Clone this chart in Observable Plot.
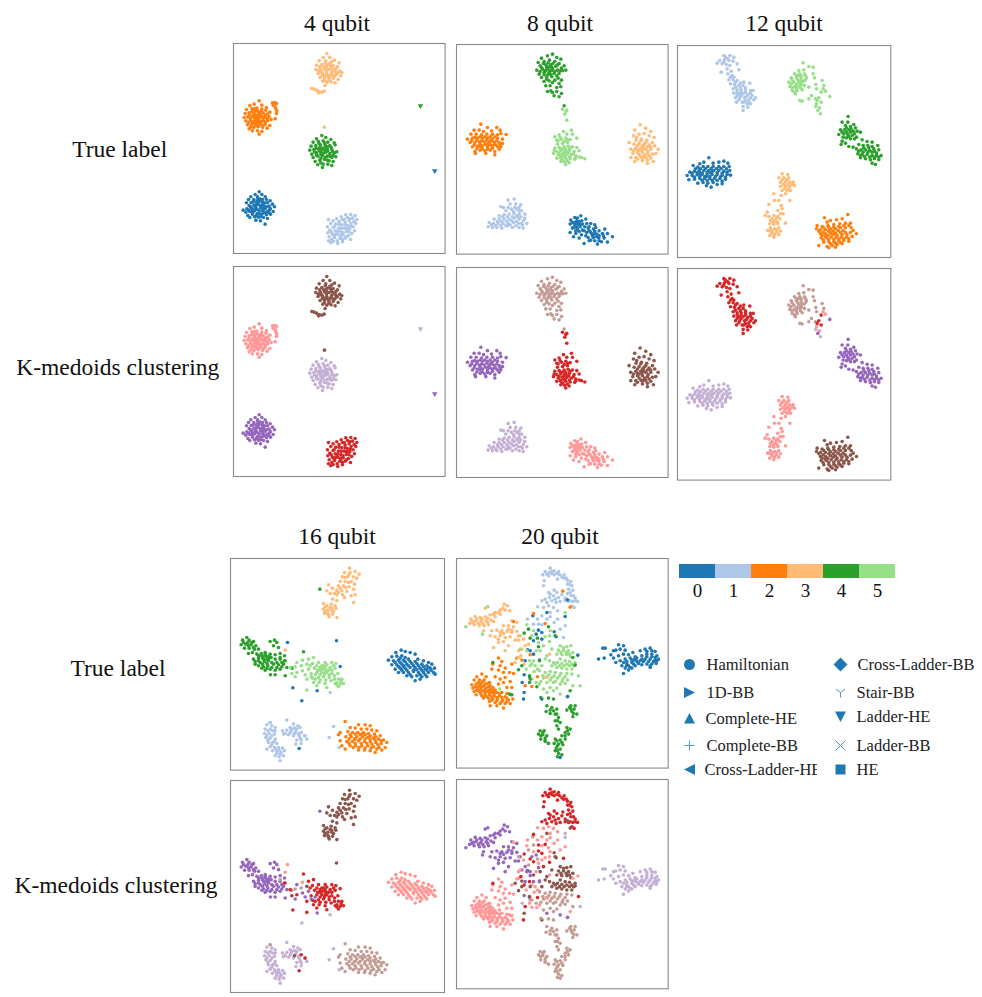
<!DOCTYPE html>
<html><head><meta charset="utf-8">
<script src="https://cdn.jsdelivr.net/npm/d3@7"></script>
<script src="https://cdn.jsdelivr.net/npm/@observablehq/plot@0.6"></script>
<style>
html,body{margin:0;padding:0;background:#fff;}
#page{position:relative;width:982px;height:997px;overflow:hidden;font-family:"Liberation Serif",serif;color:#111;}
.t{position:absolute;transform:translate(-50%,-50%);white-space:nowrap;font-size:23.5px;line-height:1;}
#page svg{position:absolute;}
</style></head><body><div id="page"></div>
<script>
// tab20: true labels use indices 0-5, K-medoids labels use indices 6-11
const labelColors=["#1f77b4","#aec7e8","#ff7f0e","#ffbb78","#2ca02c","#98df8a","#d62728","#ff9896","#9467bd","#c5b0d5","#8c564b","#c49c94"];
const colorbarLabels=["0","1","2","3","4","5"];
const markerNamesA=["Hamiltonian","1D-BB","Complete-HE","Complete-BB","Cross-Ladder-HE"];
const markerNamesB=["Cross-Ladder-BB","Stair-BB","Ladder-HE","Ladder-BB","HE"];

// ---- 4 qubit: flat x,y lists
const q4_c0=[100,545,88,553,108,553,75,560,95,560,118,560,68,568,84,568,103,567,122,568,133,572,62,578,76,577,92,575,110,576,125,578,140,582,70,586,84,585,98,584,114,586,130,588,146,590,52,600,63,596,77,594,90,592,104,593,118,595,134,596,60,606,72,604,86,602,100,602,112,603,128,606,142,604,66,616,80,612,94,610,108,612,122,614,134,612,72,622,86,620,98,621,113,622,125,625,90,630,104,632,118,642,96,572,80,600,108,585,92,583,101,611,88,596,112,595,82,575,100,575,116,578,74,590,88,590,105,590,122,590,80,606,94,598,110,600,124,604,92,616,104,620,116,608,68,600,130,600,96,566,110,568];
const q4_c1=[360,614,375,613,388,616,346,620,365,622,380,624,393,628,333,626,350,628,370,632,385,634,308,628,322,632,340,634,358,636,376,640,390,640,315,640,330,642,348,644,365,646,382,650,305,650,322,652,338,654,355,654,372,656,386,662,312,660,328,662,345,664,362,664,378,670,306,668,320,672,336,672,352,674,368,676,310,680,326,682,342,684,358,684,374,688,308,692,322,694,336,700,350,695,315,698,345,675,360,655,330,672,355,628,372,626,340,642,358,644,374,648,325,650,346,654,365,655,316,665,335,663,352,668,370,665,326,678,345,680,362,680,318,688,334,692,350,688];
const q4_c2=[100,272,85,282,72,286,108,285,122,292,62,298,78,296,93,294,108,297,120,300,132,306,58,310,70,308,84,306,98,304,112,308,125,312,55,322,66,320,80,318,92,316,106,318,118,322,130,320,60,332,74,330,88,328,100,326,112,330,126,332,136,328,65,344,78,342,92,338,104,340,118,342,132,346,70,356,84,352,97,350,110,352,124,354,80,362,95,362,108,364,100,372,86,312,98,334,92,345,75,350,92,322,103,311,84,336,140,278,148,277,152,280,142,285,148,290,150,296,153,302,152,310,148,326,78,305,92,302,106,304,118,315,70,315,85,322,98,320,110,322,124,326,74,325,80,335,94,330,106,334,118,336,88,344,100,345,112,346,85,296,99,312,68,338];
const q4_c3=[303,130,292,142,312,142,326,150,280,152,300,152,318,155,340,158,272,165,288,163,305,165,322,166,335,170,270,178,283,176,296,176,310,178,325,180,342,183,348,187,277,190,290,188,303,190,316,192,331,192,345,197,283,202,296,201,309,204,322,205,337,208,291,213,303,216,316,215,328,218,298,226,294,170,315,168,302,182,285,185,330,175,310,198,322,198,295,195,258,235,265,237,272,240,280,244,288,246,295,243,278,248,296,351,298,158,312,160,282,170,300,170,318,175,285,180,303,176,335,190,290,195,305,197,318,186,326,198,296,208,310,210,278,183,330,185];
const q4_c4=[288,376,272,386,300,382,315,388,262,396,278,394,292,392,306,396,325,398,256,408,270,406,284,404,298,404,312,406,328,404,252,420,264,418,278,416,292,414,304,416,318,418,333,425,258,432,272,428,286,426,300,426,312,430,326,428,262,442,276,438,290,436,304,438,318,442,330,440,268,454,282,450,296,448,310,452,322,454,276,464,292,462,306,462,318,466,290,472,283,410,296,420,285,432,305,410,280,400,296,398,270,414,286,418,300,410,316,412,266,425,280,422,292,430,306,422,320,424,272,435,298,442,312,438,285,444,305,450,285,458,322,435];
const q4_outlier0=[627,483];
const q4_outlier4=[584,288];

// ---- 8 qubit
const q8_c0=[390,525,372,530,405,535,360,538,378,540,393,540,408,548,358,550,372,552,387,552,402,558,420,548,432,552,365,562,380,565,395,568,412,562,428,565,445,570,462,565,358,575,375,578,392,582,408,575,422,578,438,580,455,578,470,578,368,588,385,592,412,590,428,590,444,592,460,592,485,588,400,608,415,600,440,610,452,603,470,604,385,550,378,558,395,550,418,572,432,572,380,532,386,542,425,585,438,588,365,545,380,548,372,545,388,558,370,560,400,570,415,570,430,580,445,585,458,585,405,585,420,598,432,600,445,600,415,558,435,560,375,570,385,572];
const q8_c1=[190,475,172,478,158,500,178,490,195,490,210,492,150,498,165,510,182,505,198,505,212,510,222,520,145,525,160,522,175,520,190,518,205,520,222,532,130,535,145,535,160,535,175,535,190,532,205,535,218,540,115,545,128,548,142,548,157,548,172,548,188,545,203,548,228,548,112,558,125,560,138,560,153,562,170,555,185,560,205,560,217,562,195,555,198,525,205,510,170,528,185,528,200,528,155,528,210,528,140,542,152,542,168,542,182,540,197,542,212,548,122,552,135,555,150,555,165,555,178,552,192,500,205,500,172,500,188,512,215,552];
const q8_c2=[90,250,110,260,138,260,148,268,70,268,85,268,98,272,122,270,60,280,76,280,92,282,108,280,125,280,140,282,150,278,50,295,65,292,80,292,95,292,110,292,125,294,140,292,155,295,166,281,58,305,72,305,86,304,100,303,115,305,130,304,145,305,155,308,65,318,80,316,95,315,110,318,125,315,140,318,150,318,72,332,88,328,102,330,118,328,132,332,145,325,74,338,105,338,132,342,88,318,112,310,120,298,132,312,72,290,88,288,102,288,118,288,132,288,62,300,78,298,92,300,108,298,122,300,138,300,70,312,88,310,104,310,118,312,135,312,78,324,95,324,110,325,125,322,148,312];
const q8_c3=[568,252,552,268,585,262,600,272,548,285,565,280,580,278,595,285,610,290,556,298,572,295,588,298,605,305,535,305,550,310,565,308,580,310,595,312,612,315,540,325,555,322,570,322,585,325,600,325,622,325,546,338,560,335,575,335,590,338,605,340,540,350,555,350,570,348,585,350,600,352,615,338,552,362,575,360,590,368,608,362,573,328,578,315,565,330,582,342,560,315,575,315,590,318,560,328,578,322,592,332,548,330,565,342,580,345,595,345,570,300,585,305,558,290,600,318,575,352,560,355,590,358];
const q8_c4=[305,40,290,45,272,52,318,50,330,55,262,65,280,62,296,58,312,62,325,68,340,75,268,75,285,72,300,72,315,76,332,82,258,88,275,85,290,83,305,85,320,88,345,88,265,100,280,95,295,95,310,98,325,98,272,110,288,108,303,108,322,112,332,118,280,122,295,120,305,125,325,128,285,135,298,135,318,140,330,138,290,152,305,155,318,152,332,158,310,165,325,168,300,150,285,90,298,78,292,100,290,78,302,90,340,195,278,68,292,66,306,68,272,80,288,80,304,80,320,72,282,90,296,90,312,92,328,90,268,92,300,102,318,105,280,102,335,90,288,115,312,118];
const q8_c5=[335,205,348,208,342,220,348,238,345,212,338,272,362,268,312,288,325,282,348,280,365,280,378,292,318,298,332,295,345,292,358,296,320,310,335,308,350,305,312,322,325,320,340,318,352,316,365,318,378,320,318,332,330,330,343,330,356,328,370,332,385,330,308,338,322,342,335,340,348,340,362,342,375,345,318,352,330,352,345,352,358,354,372,355,385,348,402,354,330,362,342,364,355,366,345,372,392,350,336,324,348,334,338,346,330,325,345,325,358,322,325,338,340,335,354,336,368,338,328,348,342,346,356,348,336,358,350,360,322,300,340,302,350,298,328,290,375,350,310,330];

// ---- 12 qubit
const q12_c0=[115,352,100,365,88,370,128,368,145,365,160,362,172,368,68,375,82,380,98,378,112,378,128,378,145,378,160,378,176,378,58,395,72,392,86,390,100,390,115,390,130,390,145,390,160,392,178,390,50,405,65,405,80,403,95,402,110,402,125,402,140,402,155,404,170,402,180,404,55,418,72,416,88,414,102,414,118,414,132,414,148,414,165,416,82,428,98,426,112,428,128,426,155,430,108,436,122,440,140,432,95,398,120,397,105,384,88,398,108,408,75,385,90,385,122,384,138,384,152,384,168,385,65,398,80,397,110,395,125,393,140,396,155,398,170,395,72,410,88,408,103,408,118,408,135,408,150,409,165,410,95,420,110,420,125,420,140,420,155,422];
const q12_c1=[160,45,178,45,190,50,148,60,162,58,175,60,188,62,140,68,155,70,168,72,200,70,152,95,170,85,182,92,205,88,172,100,185,105,175,118,188,118,200,120,220,125,238,128,180,130,192,132,205,135,218,135,188,145,200,148,212,148,225,148,240,150,248,150,190,158,205,160,218,160,232,162,245,165,255,172,195,172,208,172,222,172,235,178,250,178,198,185,215,185,230,190,240,190,218,198,232,200,218,210,212,165,225,180,165,50,178,75,195,125,210,128,195,140,210,142,225,142,200,155,212,155,225,155,240,158,200,165,228,168,240,172,205,178,220,185,235,185,172,55,160,65,180,110,190,110];
const q12_c2=[532,522,462,532,515,535,498,538,480,540,470,545,440,555,455,558,472,555,490,552,508,550,525,548,540,548,438,565,450,568,465,568,480,566,495,565,510,562,525,562,542,562,450,580,465,580,480,578,495,578,510,576,525,576,540,576,558,580,452,592,468,592,482,590,497,590,512,590,528,590,545,588,445,615,460,605,475,604,490,604,505,602,520,600,535,602,470,618,485,615,500,612,515,610,475,622,495,620,475,572,500,585,465,588,488,572,518,570,460,562,475,560,490,560,505,558,520,555,535,555,445,572,458,575,472,585,488,582,503,570,515,582,530,583,548,570,458,598,475,598,490,597,505,596,520,595,535,595,455,585,480,610,495,608,510,606];
const q12_c3=[335,400,352,402,325,412,340,412,355,412,330,425,345,425,358,425,368,425,330,438,345,438,358,438,372,435,335,450,350,450,360,450,345,460,332,465,310,460,325,480,312,480,295,492,332,495,358,480,335,505,322,510,330,520,290,515,284,525,295,528,310,525,322,528,338,520,300,540,315,540,328,535,298,550,310,552,322,550,345,548,300,562,312,565,325,562,292,570,305,578,318,575,330,572,298,585,310,590,340,432,350,418,335,418,348,418,338,432,352,432,365,432,342,445,355,445,305,535,318,532,308,545,320,545,305,570,318,568,300,572,312,582,325,582];
const q12_c4=[532,245,550,252,515,245,525,255,540,258,555,262,510,268,522,268,535,268,548,272,560,272,505,282,520,280,532,282,545,285,558,290,570,275,528,292,540,295,552,295,515,302,525,308,512,312,535,318,548,320,575,298,590,303,605,305,565,312,578,315,592,315,605,318,622,315,558,325,572,328,585,328,598,330,612,332,625,328,562,340,575,342,590,342,605,345,618,345,632,345,570,352,585,355,600,358,612,355,625,358,605,368,615,372,533,228,518,290,595,322,540,275,528,262,542,265,515,275,528,275,552,280,535,288,580,322,610,325,565,332,578,335,592,335,605,335,618,338,570,345,582,348,598,350,612,350,625,350];
const q12_c5=[398,67,415,78,428,80,385,90,400,88,372,100,388,100,402,100,428,100,362,112,378,112,392,112,408,112,432,112,355,125,370,125,385,125,400,122,455,120,358,138,372,138,388,135,402,135,436,132,460,135,365,150,380,150,395,148,415,140,438,145,375,160,388,180,395,182,415,175,423,165,435,175,382,118,392,128,378,140,378,105,392,106,405,105,365,118,392,120,405,118,362,130,378,132,392,132,365,142,378,145,390,142,372,155,385,105];
const q12_mixed=[452,155,5,6,465,152,5,7,478,168,5,8,445,172,5,6,438,190,5,7,447,202,5,7,442,210,5,8,450,220,5,9,440,180,5,6,452,185,5,6,458,145,5,7,436,198,5,9];

// ---- 16 qubit
const q16_c0=[528,298,512,305,540,302,555,305,570,310,500,318,515,316,530,315,490,328,505,330,520,328,535,328,550,325,578,325,595,330,610,335,500,342,515,342,530,340,545,340,560,338,575,338,590,340,605,345,620,340,510,355,525,352,540,352,555,350,570,350,585,352,600,355,615,352,628,352,520,365,535,365,550,365,565,362,580,365,595,365,610,365,625,365,545,375,560,378,575,375,590,378,605,378,570,390,585,385,630,370,535,345,565,358,525,322,540,320,510,335,525,335,540,333,555,332,570,332,520,347,535,347,550,345,565,345,580,345,595,347,610,350,530,358,545,358,575,357,590,358,605,358,618,358,555,372,585,372,600,372];
const q16_c1=[135,515,125,522,140,525,150,530,120,535,135,535,150,540,118,548,132,548,148,550,122,560,135,562,150,565,130,575,142,575,155,578,135,588,148,590,160,590,172,592,142,600,155,602,168,605,178,600,150,615,162,618,175,615,165,630,185,508,205,520,218,525,195,530,208,532,225,530,172,540,185,538,198,540,212,542,228,545,175,550,190,552,205,555,222,555,238,555,215,568,228,568,245,565,212,580,228,578,325,527,312,560,125,595,342,590,315,425,128,540,142,540,125,555,140,555,128,568,148,572,140,582,152,595,162,598,165,610,155,608,180,548,195,546,208,548,220,550,225,562,200,535,215,535];
const q16_c2=[360,512,400,522,420,522,435,525,375,530,390,532,408,535,425,535,440,538,455,540,345,545,368,542,382,545,398,545,415,545,430,548,448,550,465,555,340,552,362,558,378,558,395,558,412,558,428,560,445,562,460,565,475,568,345,570,365,572,382,572,400,570,418,572,435,572,452,575,468,578,485,575,350,585,375,585,392,585,410,585,428,585,445,588,462,590,480,590,360,595,400,598,418,598,435,600,450,605,470,598,405,565,425,578,390,565,410,550,375,552,390,550,405,552,420,552,435,555,452,558,372,565,388,565,420,565,435,565,450,568,468,570,372,578,390,578,408,578,440,580,458,582,384,590,402,590,420,592,438,592,455,595];
const q16_c3=[373,52,358,65,375,65,390,62,402,70,352,78,368,78,385,78,395,82,345,92,360,92,378,92,388,100,340,105,355,105,372,108,385,115,310,102,322,112,335,118,350,120,365,122,305,120,315,128,335,132,378,135,390,132,295,158,322,145,335,150,358,140,385,155,305,165,318,160,330,165,295,175,308,178,320,178,332,172,298,188,310,192,322,190,335,200,312,198,300,182,315,170,325,182,308,188,320,172,300,168,340,125,345,112,362,110,370,95,360,80,328,128,352,132,372,70];
const q16_c4=[65,260,52,268,72,268,85,272,48,282,62,280,78,282,92,285,58,292,72,292,88,295,100,295,82,305,70,308,95,310,108,308,120,305,135,272,148,268,155,275,145,285,160,290,85,325,100,322,112,320,125,318,138,320,165,308,178,315,90,340,105,335,118,332,130,330,150,325,165,325,180,330,100,345,115,348,128,345,145,340,160,342,175,340,120,358,135,355,150,358,165,355,185,350,136,372,150,372,180,375,120,315,125,325,135,310,68,275,80,275,55,275,70,285,85,290,110,315,120,310,130,318,100,315,115,325,130,325,100,330,112,340,125,338,140,335,155,335,170,335,110,352,125,352,140,350,155,350,170,348,90,332,150,312];
const q16_c5=[265,320,250,325,262,338,280,335,300,335,320,335,332,338,268,352,285,350,300,350,315,350,330,352,258,368,275,365,290,365,305,365,320,368,338,368,262,382,280,380,295,378,312,380,328,385,350,385,265,395,282,395,300,398,335,395,345,400,355,398,275,405,305,410,340,408,245,418,298,372,285,358,330,398,295,345,310,358,275,345,290,345,305,342,278,358,292,355,302,358,320,358,285,372,300,365,312,372,328,375,270,385,285,388,302,388,318,390,335,402,348,392,340,385,255,345,325,345];
const q16_mixed=[284,115,4,8,187,275,0,7,334,270,0,10,345,347,0,6,203,411,0,6,276,420,0,8,230,450,0,9,222,593,0,6,235,303,4,6,200,352,4,11,180,298,3,7,232,328,5,7,215,335,5,8,195,350,5,6,210,348,5,11,228,345,5,11,200,368,5,6,215,365,5,6,232,360,5,8,210,378,5,8,245,340,5,10,250,355,5,8,240,372,5,8,245,385,5,6,258,378,5,8,270,372,5,8,208,548,1,10,228,545,1,6,240,555,1,6,135,515,1,11,165,320,4,11,178,330,4,6];

// ---- 20 qubit
const q20_c0=[458,292,465,292,445,325,462,322,490,300,505,282,520,285,482,312,497,298,510,295,525,298,490,322,505,315,520,310,535,312,548,305,497,335,510,330,525,325,540,322,555,318,570,300,585,295,600,292,615,302,515,345,530,340,545,335,560,332,575,315,590,310,605,310,620,315,525,352,540,350,555,345,570,330,585,325,600,325,615,328,625,325,520,368,535,358,575,342,590,340,605,340,618,338,600,350,560,322,550,328,530,332,545,328,555,325,520,335,535,345,550,340,565,338,575,325,590,318,605,318,615,320,580,332,595,332,610,332,620,330,590,302,605,300,600,345,530,345,545,352];
const q20_c1=[300,52,285,62,298,65,312,60,325,62,278,72,295,75,312,72,328,72,342,72,322,85,340,82,352,88,362,92,282,90,280,105,352,100,365,105,355,115,368,118,312,118,295,125,320,125,335,132,352,128,298,140,285,145,310,135,325,140,362,135,375,142,345,142,355,152,368,152,382,152,275,150,290,155,305,150,318,155,330,152,365,165,372,170,305,68,320,68,335,78,348,82,358,100,360,125,370,135,375,150,345,150,360,150,300,130,315,145,305,62,290,70];
const q20_c1b=[262,168,280,170,295,165,310,170,322,180,300,185,275,195,232,205,262,205,290,205,312,215,322,205,345,225,300,198];
const q20_c2=[95,370,80,378,108,378,72,388,88,388,102,388,118,395,65,402,78,400,92,398,105,400,120,405,68,412,82,410,95,408,108,412,122,415,135,418,72,422,85,420,98,420,112,422,125,425,140,425,155,425,170,428,78,432,92,430,105,432,118,432,132,435,148,435,165,438,182,432,100,442,115,442,128,445,142,445,158,448,175,448,188,445,118,452,135,455,150,458,165,458,180,458,120,465,140,465,160,472,145,322,155,332,128,340,125,355,150,345,165,352,145,358,160,365,178,365,190,368,135,378,150,385,165,380,180,392,145,400,160,395,185,410,170,410,85,395,98,392,112,398,75,408,88,405,100,405,115,408,128,410,80,418,92,415,105,415,118,418,130,420,90,425,105,425,118,425,132,428,148,428,95,435,110,438,125,438,140,440,155,440,170,442,125,448,140,450,155,452,170,452];
const q20_c3=[162,160,172,165,150,178,165,178,178,180,135,185,150,190,105,172,120,192,135,198,75,197,90,200,105,198,62,205,78,210,92,212,108,210,122,208,58,218,72,222,88,225,102,225,115,222,100,240,130,212,185,210,200,215,175,225,190,228,160,225,125,240,140,238,155,240,170,242,185,245,200,242,210,255,120,255,135,258,150,255,165,260,180,258,195,268,130,290,145,275,160,272,175,285,165,300,205,268,215,295,70,212,85,218,98,218,112,215,65,215,80,205,95,205,112,202,130,190,145,185,158,172,150,245,160,248,175,235,185,238,145,265];
const q20_c4=[295,442,310,445,352,438,290,465,305,470,320,475,362,465,375,465,350,478,365,482,380,490,288,482,300,488,315,490,325,500,368,498,315,510,330,515,320,525,325,535,270,540,282,540,265,550,278,552,290,555,350,530,360,535,345,545,355,550,335,555,272,565,285,570,295,578,315,565,330,568,345,565,312,578,325,580,338,582,318,592,330,595,315,600,325,608,335,612,285,572,322,618,300,478,310,480,372,475,370,488,320,490,322,510,278,545,272,555,285,562,352,540,345,555,320,570,335,575,322,585,322,600,362,475,358,470];
const q20_c5a=[330,285,350,288,362,285,325,298,340,298,355,300,368,305,305,295,320,310,335,312,350,312,362,318,285,325,298,330,322,335,335,338,350,340,365,340,375,335,305,345,320,350,335,352,350,355,365,355,275,345,290,315,340,290,348,305,332,305,358,310,310,335,328,345,342,345,358,345,370,345,315,340,345,330,330,325,358,332];
const q20_c5b=[268,360,285,365,300,362,315,365,332,368,350,368,365,370,290,378,305,380,322,382,338,385,352,388,272,392,290,395,310,395,330,400,345,398,300,410,320,412,368,405,245,385,258,395,278,375,296,372,312,375,328,375,345,378,300,388,316,392,336,392,280,382];
const q20_mixed=[248,195,0,11,290,185,0,10,345,197,0,9,352,147,0,10,265,238,0,6,275,245,0,6,258,250,0,8,312,243,0,10,318,258,0,10,250,270,0,6,240,300,0,8,232,297,0,10,225,330,0,8,250,310,0,10,268,328,0,6,383,313,0,7,222,372,0,8,238,378,0,8,216,395,0,9,222,425,0,10,220,445,0,6,275,445,0,10,352,437,0,8,330,620,0,11,338,121,2,6,360,169,2,10,250,188,2,6,285,218,2,6,190,212,2,7,200,322,2,7,215,328,2,10,240,312,2,8,262,378,2,6,245,407,2,7,298,310,3,7,290,380,3,7,205,320,3,7,222,340,3,6,195,335,3,10,235,235,4,11,222,247,4,6,295,228,4,7,315,255,4,10,240,262,4,6,265,288,4,8,205,357,4,10,128,335,4,6,368,320,4,7,375,343,4,10,238,375,4,10,240,385,4,11,268,330,4,8,178,430,4,7,185,432,4,7,260,408,4,7,272,440,4,11,113,168,5,8,97,250,5,8,47,228,5,8,230,222,5,7,345,185,5,9,300,240,5,7,390,405,5,9,148,415,5,7,238,330,5,6,255,345,5,7,270,300,5,10,245,340,5,7,262,355,5,7,230,300,5,8,250,330,5,8,280,285,5,6,258,300,5,7,210,295,5,7,205,300,3,7,225,285,3,8,212,315,3,6,265,275,5,7,275,265,0,7,245,255,5,8,262,262,4,11,285,258,5,7,298,272,5,6,240,345,5,10,228,355,5,7,252,362,5,7,238,395,4,7,268,400,5,7,280,415,5,11,290,425,5,8,310,420,5,11,330,430,5,8,360,420,4,7,225,405,2,6,185,340,2,7,215,345,4,10,205,255,3,11,220,265,3,7,250,240,5,7,235,280,3,11,275,222,1,7,250,220,1,11,265,220,1,6,330,235,1,7,340,260,1,6,298,255,5,7,385,375,5,6];

// ---- panel layouts (frames are in the same units as the points)
const pad=2;
function flat(a,t,k){const o=[];for(let i=0;i<a.length;i+=2)o.push({x:a[i],y:a[i+1],t,k});return o;}
function quads(a){const o=[];for(let i=0;i<a.length;i+=4)o.push({x:a[i],y:a[i+1],t:a[i+2],k:a[i+3]});return o;}
const panels=[
 {d:[23,658,100,730],px:[232.7,444.3],py:[[43.3,253.3],[266,476]],
  pts:[...flat(q4_c3,3,10),...flat(q4_c2,2,7),...flat(q4_c4,4,9),...flat(q4_c0,0,8),...flat(q4_c1,1,6)],
  tri:[...flat(q4_outlier4,4,9),...flat(q4_outlier0,0,8)]},
 {d:[17,652,11,640],px:[455.7,667.3],py:[[43.7,253.3],[267,477]],
  pts:[...flat(q8_c4,4,11),...flat(q8_c5,5,6),...flat(q8_c2,2,8),...flat(q8_c3,3,10),...flat(q8_c1,1,9),...flat(q8_c0,0,7)]},
 {d:[21,661,15,651],px:[677,890.3],py:[[45,257],[267.7,479.3]],
  pts:[...flat(q12_c1,1,6),...flat(q12_c5,5,11),...flat(q12_c4,4,8),...flat(q12_c0,0,9),...flat(q12_c3,3,7),...flat(q12_c2,2,10),...quads(q12_mixed)]},
 {d:[16,658,23,658],px:[230.3,444.3],py:[[557.7,769.3],[779.7,991.7]],
  pts:[...flat(q16_c3,3,10),...flat(q16_c4,4,8),...flat(q16_c5,5,6),...flat(q16_c0,0,7),...flat(q16_c1,1,9),...flat(q16_c2,2,11),...quads(q16_mixed)]},
 {d:[19,654,23,652],px:[456.3,668],py:[[557.7,767.3],[779,988.3]],
  pts:[...flat(q20_c1,1,6),...flat(q20_c1b,1,7),...flat(q20_c3,3,8),...flat(q20_c5a,5,10),...flat(q20_c5b,5,11),...flat(q20_c0,0,9),...flat(q20_c2,2,7),...flat(q20_c4,4,11),...quads(q20_mixed)]}
];
const page=document.getElementById("page");
const colorScale={type:"ordinal",domain:d3.range(12),range:labelColors};
function place(svg,l,t){svg.style.left=l+"px";svg.style.top=t+"px";page.appendChild(svg);}
const triDown={draw(c,s){const r=Math.sqrt(s/Math.PI)*1.3;c.moveTo(-r,-r*.7);c.lineTo(r,-r*.7);c.lineTo(0,r);c.closePath();}};
panels.forEach(p=>{
 ["t","k"].forEach((lab,i)=>{
  const w=p.px[1]-p.px[0],[top,bot]=p.py[i],h=bot-top;
  const marks=[Plot.frame({stroke:"#8a8a8a",strokeWidth:1.1}),
   Plot.dot(p.pts,{x:"x",y:"y",r:1.8,fill:lab,stroke:"none"})];
  if(p.tri)marks.push(Plot.dot(p.tri,{x:"x",y:"y",r:2.1,fill:lab,stroke:"none",symbol:triDown}));
  const svg=Plot.plot({width:w+2*pad,height:h+2*pad,margin:pad,
   x:{domain:[p.d[0],p.d[1]],axis:null},y:{domain:[p.d[3],p.d[2]],axis:null},
   color:colorScale,style:{background:"transparent"},marks});
  place(svg,p.px[0]-pad,top-pad);
 });
});

// ---- text
const textItems=[["4 qubit",337,24],["8 qubit",560,24],["12 qubit",784,24],["16 qubit",337,537],["20 qubit",560,537],
 ["True label",119.7,150],["K-medoids clustering",117.7,368],["True label",118,669],["K-medoids clustering",116,886]];
textItems.forEach(([s,x,y])=>{const d=document.createElement("div");d.className="t";d.textContent=s;d.style.left=x+"px";d.style.top=y+"px";page.appendChild(d);});

// ---- colorbar
const cb=Plot.plot({width:217,height:44,marginLeft:0,marginRight:0,marginTop:0,marginBottom:30,
 x:{type:"band",domain:colorbarLabels,padding:0,axis:null},y:{axis:null},
 style:{background:"transparent"},
 marks:[Plot.cell(colorbarLabels,{x:d=>d,fill:(d,i)=>labelColors[i]}),
  Plot.axisX({domain:colorbarLabels,tickSize:0,tickPadding:5,fontSize:19,fontFamily:"Liberation Serif",label:null})]});
place(cb,678,564);

// ---- marker legend
function sym(fn){return {draw:fn};}
const markerShapesA=[
 sym((c,s)=>{const r=5.5;c.arc(0,0,r,0,2*Math.PI);}),
 sym((c,s)=>{c.moveTo(-5.5,-5.5);c.lineTo(5.5,0);c.lineTo(-5.5,5.5);c.closePath();}),
 sym((c,s)=>{c.moveTo(-5.5,5);c.lineTo(0,-5.5);c.lineTo(5.5,5);c.closePath();}),
 sym((c,s)=>{c.moveTo(-5,0);c.lineTo(5,0);c.moveTo(0,-5);c.lineTo(0,5);}),
 sym((c,s)=>{c.moveTo(5.5,-5.5);c.lineTo(-5.5,0);c.lineTo(5.5,5.5);c.closePath();})];
const markerShapesB=[
 sym((c,s)=>{c.moveTo(0,-7);c.lineTo(7,0);c.lineTo(0,7);c.lineTo(-7,0);c.closePath();}),
 sym((c,s)=>{c.moveTo(0,0);c.lineTo(0,5);c.moveTo(0,0);c.lineTo(-4.5,-3.5);c.moveTo(0,0);c.lineTo(4.5,-3.5);}),
 sym((c,s)=>{c.moveTo(-5.5,-5);c.lineTo(5.5,-5);c.lineTo(0,5.5);c.closePath();}),
 sym((c,s)=>{c.moveTo(-5,-5);c.lineTo(5,5);c.moveTo(5,-5);c.lineTo(-5,5);}),
 sym((c,s)=>{c.rect(-5,-5,10,10);})];
const rowsA=[664,692,718,745,769],rowsB=[664,692,716,745,769];
function legendColumn(names,shapes,rows,openIdx,textXs,markerX,left,right){
 const marks=[];
 names.forEach((n,i)=>{
  const row=[{n,x:markerX,tx:textXs[i],y:rows[i]}];
  const open=openIdx.includes(i);
  marks.push(Plot.dot(row,{x:"x",y:"y",r:5,symbol:shapes[i],fill:open?"none":"#1f77b4",stroke:open?"#4c94c8":"none",strokeWidth:1}));
  marks.push(Plot.text(row,{x:"tx",y:"y",text:"n",textAnchor:"start",fontSize:16.5,fontFamily:"Liberation Serif",fill:"#222"}));
 });
 const svg=Plot.plot({width:right-left,height:150,margin:0,
  x:{domain:[left,right],axis:null},y:{domain:[790,640],axis:null},
  style:{background:"transparent",overflow:"hidden"},marks});
 place(svg,left,640);
}
legendColumn(markerNamesA,markerShapesA,rowsA,[3],[706,706,705,706,704],689,672,816.7);
legendColumn(markerNamesB,markerShapesB,rowsB,[1,3],[857,856,856,856,856],840,826,982);
</script></body></html>
